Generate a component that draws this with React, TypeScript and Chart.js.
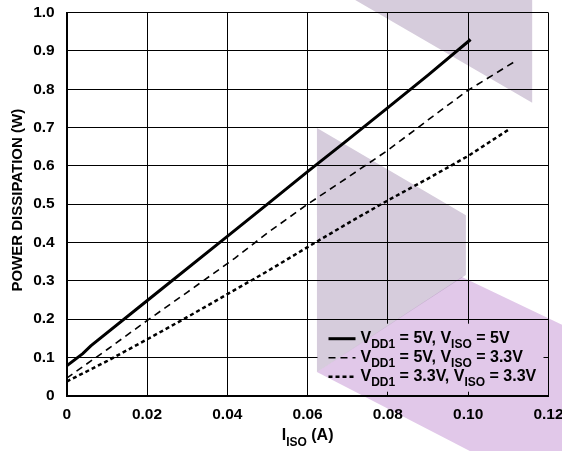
import { useEffect, useRef } from "react";
import { Chart, registerables } from "chart.js";

Chart.register(...registerables);

// Tick labels
const xTickLabels = ["0", "0.02", "0.04", "0.06", "0.08", "0.10", "0.12"];
const yTickLabels = ["0", "0.1", "0.2", "0.3", "0.4", "0.5", "0.6", "0.7", "0.8", "0.9", "1.0"];

// Series: VDD1 = 5V, VISO = 5V
const s1X = [0, 0.004, 0.006, 0.02, 0.04, 0.05, 0.06, 0.07, 0.08, 0.09, 0.1006];
const s1Y = [0.078, 0.11, 0.13, 0.248, 0.416, 0.5, 0.585, 0.668, 0.752, 0.837, 0.93];

// Series: VDD1 = 5V, VISO = 3.3V
const s2X = [0, 0.01, 0.02, 0.03, 0.038, 0.042, 0.05, 0.06, 0.07, 0.08, 0.09, 0.0996, 0.112];
const s2Y = [0.046, 0.12, 0.196, 0.27, 0.33, 0.36, 0.425, 0.5, 0.57, 0.641, 0.72, 0.795, 0.875];

// Series: VDD1 = 3.3V, VISO = 3.3V
const s3X = [0, 0.01, 0.02, 0.03, 0.04, 0.05, 0.06, 0.07, 0.08, 0.09, 0.1, 0.1104];
const s3Y = [0.037, 0.09, 0.147, 0.205, 0.265, 0.325, 0.388, 0.45, 0.51, 0.567, 0.626, 0.697];

const yTitle = "POWER DISSIPATION (W)";
const xTitleParts = ["I", "ISO", " (A)"];
const legendParts = [
  ["V", "DD1", " = 5V, V", "ISO", " = 5V"],
  ["V", "DD1", " = 5V, V", "ISO", " = 3.3V"],
  ["V", "DD1", " = 3.3V, V", "ISO", " = 3.3V"],
];
const lineStyles = [
  { width: 3, dash: [] as number[] },
  { width: 1.6, dash: [7, 5] },
  { width: 2.5, dash: [4, 3] },
];

const FONT = "'Liberation Sans', Arial, sans-serif";

function drawSubText(ctx: CanvasRenderingContext2D, parts: string[], x: number, y: number, size: number, subSize: number) {
  let cx = x;
  parts.forEach((p, i) => {
    const sub = i % 2 === 1;
    ctx.font = `bold ${sub ? subSize : size}px ${FONT}`;
    ctx.fillText(p, cx, sub ? y + size * 0.4 : y);
    cx += ctx.measureText(p).width;
  });
  return cx;
}

function measureSubText(ctx: CanvasRenderingContext2D, parts: string[], size: number, subSize: number) {
  let w = 0;
  parts.forEach((p, i) => {
    ctx.font = `bold ${i % 2 === 1 ? subSize : size}px ${FONT}`;
    w += ctx.measureText(p).width;
  });
  return w;
}

const overlayPlugin = {
  id: "overlay",
  afterDraw(chart: any) {
    const ctx: CanvasRenderingContext2D = chart.ctx;
    const a = chart.chartArea;
    ctx.save();
    // Legend box (covers grid)
    const lx = a.right - 231;
    const ly = a.bottom - 72;
    ctx.fillStyle = "#fff";
    ctx.fillRect(lx, ly, 226, 68);
    ctx.fillStyle = "#000";
    ctx.strokeStyle = "#000";
    ctx.textBaseline = "middle";
    ctx.textAlign = "left";
    legendParts.forEach((parts, i) => {
      const ry = ly + 15 + i * 19;
      const st = lineStyles[i];
      ctx.lineWidth = st.width;
      ctx.setLineDash(st.dash);
      ctx.beginPath();
      ctx.moveTo(lx + 11, ry);
      ctx.lineTo(lx + 38, ry);
      ctx.stroke();
      ctx.setLineDash([]);
      drawSubText(ctx, parts, lx + 43, ry, 16, 12);
    });
    // X axis title
    const w = measureSubText(ctx, xTitleParts, 16, 12);
    const cx = (a.left + a.right) / 2;
    drawSubText(ctx, xTitleParts, cx - w / 2, 436, 16, 12);
    // Y axis title
    ctx.save();
    ctx.translate(18, (a.top + a.bottom) / 2 - 4);
    ctx.rotate(-Math.PI / 2);
    ctx.textAlign = "center";
    ctx.font = `bold 15px ${FONT}`;
    ctx.fillText(yTitle, 0, 0);
    ctx.restore();

    // Watermark (multiply blend)
    const W = chart.width;
    const H = chart.height;
    ctx.globalCompositeOperation = "multiply";
    ctx.fillStyle = "rgb(214,204,220)";
    ctx.beginPath();
    ctx.moveTo(W * 0.632, 0);
    ctx.lineTo(W * 0.947, 0);
    ctx.lineTo(W * 0.947, H * 0.228);
    ctx.closePath();
    ctx.fill();
    ctx.beginPath();
    ctx.moveTo(W * 0.564, H * 0.284);
    ctx.lineTo(W * 0.829, H * 0.477);
    ctx.lineTo(W * 0.829, H * 0.61);
    ctx.lineTo(W * 0.564, H * 0.825);
    ctx.closePath();
    ctx.fill();
    ctx.fillStyle = "rgb(225,200,233)";
    ctx.beginPath();
    ctx.moveTo(W * 0.822, H * 0.614);
    ctx.lineTo(W * 1.0, H * 0.72);
    ctx.lineTo(W * 1.0, H);
    ctx.lineTo(W * 0.836, H);
    ctx.lineTo(W * 0.564, H * 0.825);
    ctx.closePath();
    ctx.fill();
    ctx.restore();
  },
};

export default function App() {
  const ref = useRef<HTMLCanvasElement>(null);
  useEffect(() => {
    if (!ref.current) return;
    const mk = (xs: number[], ys: number[]) => xs.map((x, i) => ({ x, y: ys[i] }));
    const chart = new Chart(ref.current, {
      type: "line",
      data: {
        datasets: [0, 1, 2].map((i) => ({
          data: mk([s1X, s2X, s3X][i], [s1Y, s2Y, s3Y][i]),
          borderColor: "#000",
          borderWidth: lineStyles[i].width,
          borderDash: lineStyles[i].dash,
          pointRadius: 0,
          tension: 0,
        })),
      },
      options: {
        animation: false,
        responsive: true,
        maintainAspectRatio: false,
        layout: { padding: { top: 12.7, right: 13.5, left: 0, bottom: 0 } },
        plugins: { legend: { display: false }, tooltip: { enabled: false } },
        scales: {
          x: {
            type: "linear",
            min: 0,
            max: 0.12,
            ticks: {
              stepSize: 0.02,
              padding: 10,
              color: "#000",
              font: { family: FONT, size: 15.5, weight: "bold" },
              callback: (_v: any, i: number) => xTickLabels[i],
              maxRotation: 0,
            },
            grid: { color: "#000", lineWidth: 1, drawTicks: false },
            border: { color: "#000", width: 2 },
            afterFit: (s: any) => {
              s.height = 55.3;
              s.paddingLeft = 0;
              s.paddingRight = 0;
            },
          },
          y: {
            type: "linear",
            min: 0,
            max: 1,
            ticks: {
              stepSize: 0.1,
              padding: 12,
              color: "#000",
              font: { family: FONT, size: 15.5, weight: "bold" },
              callback: (_v: any, i: number) => yTickLabels[i],
            },
            grid: { color: "#000", lineWidth: 1, drawTicks: false },
            border: { color: "#000", width: 2 },
            afterFit: (s: any) => {
              s.width = 66.7;
              s.paddingTop = 0;
              s.paddingBottom = 0;
            },
          },
        },
      },
      plugins: [overlayPlugin],
    });
    return () => chart.destroy();
  }, []);
  return (
    <div style={{ position: "absolute", left: 0, top: 0, width: 562, height: 451 }}>
      <canvas ref={ref} />
    </div>
  );
}
